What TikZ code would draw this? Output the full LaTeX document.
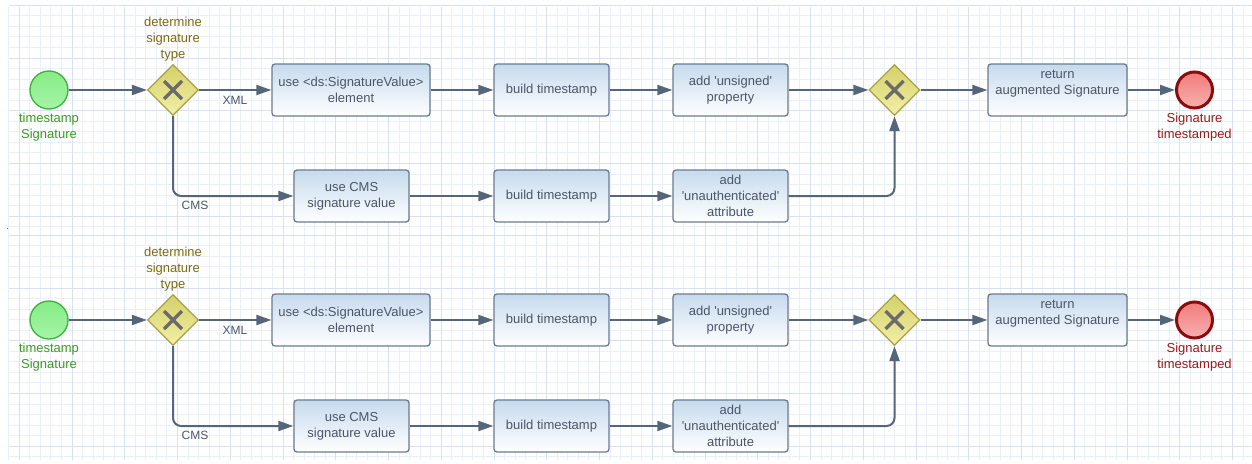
\documentclass[tikz,border=0pt]{standalone}
\usepackage{fontspec}
\setmainfont{Liberation Sans}
\usetikzlibrary{shapes.geometric, arrows.meta, positioning}

\definecolor{gridminor}{HTML}{EAF0F9}
\definecolor{gridmajor}{HTML}{D6E1F1}
\definecolor{flowgray}{HTML}{56667A}
\definecolor{taskedge}{HTML}{6B7B8F}
\definecolor{tasktop}{HTML}{C6DAEE}
\definecolor{tasktext}{HTML}{4C5666}
\definecolor{gatetop}{HTML}{D4D068}
\definecolor{gatebottom}{HTML}{F2F0A8}
\definecolor{gateedge}{HTML}{A6A24A}
\definecolor{gatetext}{HTML}{7D6A0E}
\definecolor{starttop}{HTML}{86EC86}
\definecolor{startbottom}{HTML}{A6F4A6}
\definecolor{startedge}{HTML}{3FAF3F}
\definecolor{starttext}{HTML}{3C9A22}
\definecolor{endtop}{HTML}{F07C7C}
\definecolor{endbottom}{HTML}{F8B0B0}
\definecolor{endedge}{HTML}{8A0C0C}
\definecolor{endtext}{HTML}{9A1A1A}

\newcommand\boxfont{\fontsize{13pt}{15.8pt}\selectfont}
\newcommand\q{\textquotesingle}

\tikzset{
  task/.style={rectangle, draw=taskedge, line width=1.3pt, rounded corners=3pt, top color=tasktop, bottom color=white, minimum width=115pt, minimum height=52pt, align=center, text=tasktext, font=\boxfont, inner sep=1pt},
  gateway/.style={diamond, draw=gateedge, line width=1.2pt, top color=gatetop, bottom color=gatebottom, minimum size=51pt, inner sep=0pt,
    path picture={\draw[line width=3.3pt, draw=black!58] (path picture bounding box.center) ++(-9pt,-9pt) -- ++(18pt,18pt) (path picture bounding box.center) ++(-9pt,9pt) -- ++(18pt,-18pt);}},
  startev/.style={circle, draw=startedge, line width=1.3pt, top color=starttop, bottom color=startbottom, minimum size=38pt, inner sep=0pt},
  endev/.style={circle, draw=endedge, line width=3pt, top color=endtop, bottom color=endbottom, minimum size=36pt, inner sep=0pt},
  evlabel/.style={align=center, font=\boxfont, inner sep=0pt},
  flowlabel/.style={font=\fontsize{12pt}{14pt}\selectfont, text=tasktext, inner sep=0pt},
  flow/.style={draw=flowgray, line width=2pt, -{Triangle[length=15pt,width=10pt]}},
  branch/.style={flow, rounded corners=8pt}
}

\begin{document}
\begin{tikzpicture}[x=1pt, y=-1pt]
\useasboundingbox (0,0) rectangle (1252,463);
\fill[white] (0,0) rectangle (1252,463);

\foreach \r/\dy in {t/0, b/230} {
  % grid paper
  \foreach \i in {-6,...,111}
    \draw[gridminor, line width=1pt] ({72+10.55*\i},{7+\dy}) -- ({72+10.55*\i},{min(237+\dy,460)});
  \foreach \j in {-5,...,16}
    \draw[gridminor, line width=1pt] (8.7,{58+\dy+10.55*\j}) -- (1252,{58+\dy+10.55*\j});
  \foreach \i in {-5,0,...,110}
    \draw[gridmajor, line width=1pt] ({72+10.55*\i},{7+\dy}) -- ({72+10.55*\i},{min(237+\dy,460)});
  \foreach \j in {-5,0,...,15}
    \draw[gridmajor, line width=1pt] (8.7,{58+\dy+10.55*\j}) -- (1252,{58+\dy+10.55*\j});

  % events and gateways
  \node[startev] (start\r) at (49,{90+\dy}) {};
  \node[evlabel, text=starttext] (startlbl\r) at (49,{127+\dy}) {timestamp\\Signature};
  \node[gateway] (split\r) at (173,{90+\dy}) {};
  \node[evlabel, text=gatetext] (splitlbl\r) at (173,{39+\dy}) {determine\\signature\\type};
  \node[gateway] (merge\r) at (894.5,{90+\dy}) {};
  \node[endev] (done\r) at (1194.5,{90+\dy}) {};
  \node[evlabel, text=endtext] (donelbl\r) at (1194.5,{127+\dy}) {Signature\\timestamped};

  % tasks
  \node[task, minimum width=158pt] (usexml\r) at (351,{90+\dy}) {use <ds:SignatureValue>\\element};
  \node[task] (buildx\r) at (551.5,{90+\dy}) {build timestamp};
  \node[task] (addprop\r) at (730.5,{90+\dy}) {add \q unsigned\q\\property};
  \node[task, minimum width=139pt] (ret\r) at (1057.5,{90+\dy}) {return\\augmented Signature\\ \mbox{}};
  \node[task] (usecms\r) at (351.5,{196+\dy}) {use CMS\\signature value};
  \node[task] (buildc\r) at (551.5,{196+\dy}) {build timestamp};
  \node[task] (addattr\r) at (730.5,{196+\dy}) {add\\\q unauthenticated\q\\attribute};

  % sequence flows
  \draw[flow] (start\r) -- (split\r.west);
  \draw[flow] (split\r.east) -- (usexml\r);
  \draw[flow] (usexml\r) -- (buildx\r);
  \draw[flow] (buildx\r) -- (addprop\r);
  \draw[flow] (addprop\r) -- (merge\r.west);
  \draw[flow] (merge\r.east) -- (ret\r);
  \draw[flow] (ret\r) -- (done\r);
  \draw[branch] (split\r.south) |- (usecms\r);
  \draw[flow] (usecms\r) -- (buildc\r);
  \draw[flow] (buildc\r) -- (addattr\r);
  \draw[branch] (addattr\r) -| (merge\r.south);

  \node[flowlabel] (xml\r) at (235,{100+\dy}) {XML};
  \node[flowlabel] (cms\r) at (195,{205+\dy}) {CMS};
}
\fill[gridmajor!40!blue] (6.5,227.5) rectangle (8,229);
\end{tikzpicture}
\end{document}
